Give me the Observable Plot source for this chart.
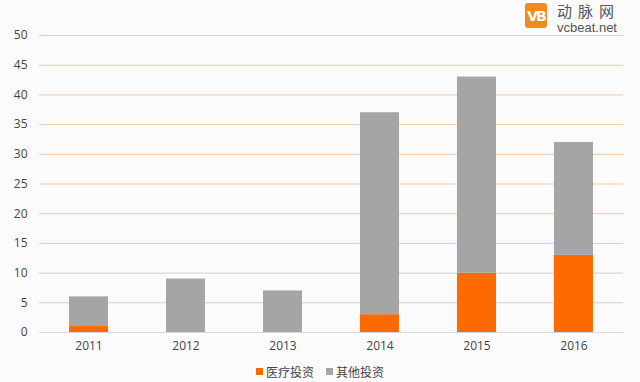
<!DOCTYPE html>
<html>
<head>
<meta charset="utf-8">
<script src="https://cdn.jsdelivr.net/npm/d3@7"></script>
<script src="https://cdn.jsdelivr.net/npm/@observablehq/plot@0.6"></script>
<style>
  html, body { margin: 0; padding: 0; background: #fbfbfc; }
  body { width: 640px; height: 382px; position: relative; overflow: hidden;
         font-family: "Open Sans", "Noto Sans CJK SC", sans-serif; }
  #chart { position: absolute; left: 0; top: 0; }
  #legend { position: absolute; top: 361px; left: 0; width: 640px; text-align: center;
            font-family: "Noto Sans CJK SC", sans-serif; font-size: 12px; color: #444; }
  #legend span.item { display: inline-flex; align-items: center; margin: 0 6px; }
  #legend span.sw { display: inline-block; width: 7px; height: 7px; margin-right: 3px; }
  #logo { position: absolute; left: 525px; top: 0px; display: flex; align-items: flex-start; }
  #logo .vb { width: 22px; height: 25px; margin-top: 3px; background: #f28a1e; border-radius: 3px; color: #fff;
              font: bold 14px "DejaVu Sans", sans-serif; display: flex; align-items: center;
              justify-content: center; letter-spacing: -2px; }
  #logo .txt { margin-left: 10px; color: #555; }
  #logo .cn { font-family: "Noto Sans CJK SC", sans-serif; font-size: 15px; letter-spacing: 6px; line-height: normal; }
  #logo .en { font-family: "Liberation Sans", sans-serif; font-size: 13px; line-height: normal; margin-top: -1px; }
</style>
</head>
<body>
<div id="chart"></div>
<div id="legend"></div>
<div id="logo"><div class="vb">VB</div><div class="txt"><div class="cn">动脉网</div><div class="en">vcbeat.net</div></div></div>
<script>
const years = ["2011", "2012", "2013", "2014", "2015", "2016"];
const medical = [1, 0, 0, 3, 10, 13];
const other = [5, 9, 7, 34, 33, 19];
const seriesNames = ["医疗投资", "其他投资"];
const seriesColors = ["#ff6a00", "#a5a5a5"];
const yTicks = [0, 5, 10, 15, 20, 25, 30, 35, 40, 45, 50];

const rows = [];
years.forEach((y, i) => {
  rows.push({year: y, series: seriesNames[0], value: medical[i]});
  rows.push({year: y, series: seriesNames[1], value: other[i]});
});

const chart = Plot.plot({
  width: 640,
  height: 358,
  marginTop: 35,
  marginBottom: 26,
  marginLeft: 39,
  marginRight: 17,
  style: {background: "transparent", fontFamily: "Open Sans, sans-serif", fontSize: "12px", color: "#444"},
  x: {domain: years, paddingInner: 0.6, paddingOuter: 0.3, label: null, tickSize: 0, tickPadding: 9},
  y: {domain: [0, 50], ticks: yTicks, label: null, tickSize: 0, tickPadding: 12},
  color: {domain: seriesNames, range: seriesColors},
  marks: [
    Plot.ruleY(yTicks.filter(d => d > 0), {stroke: d => d >= 15 ? "#f3c9a6" : "#cfcfcf", strokeWidth: 1}),
    Plot.barY(rows, {x: "year", y: "value", fill: "series", order: seriesNames}),
    Plot.ruleY([0], {stroke: "#d9d9d9"})
  ]
});
document.getElementById("chart").appendChild(chart);

const legend = document.getElementById("legend");
seriesNames.forEach((name, i) => {
  const item = document.createElement("span");
  item.className = "item";
  const sw = document.createElement("span");
  sw.className = "sw";
  sw.style.background = seriesColors[i];
  item.appendChild(sw);
  item.appendChild(document.createTextNode(name));
  legend.appendChild(item);
});
</script>
</body>
</html>
